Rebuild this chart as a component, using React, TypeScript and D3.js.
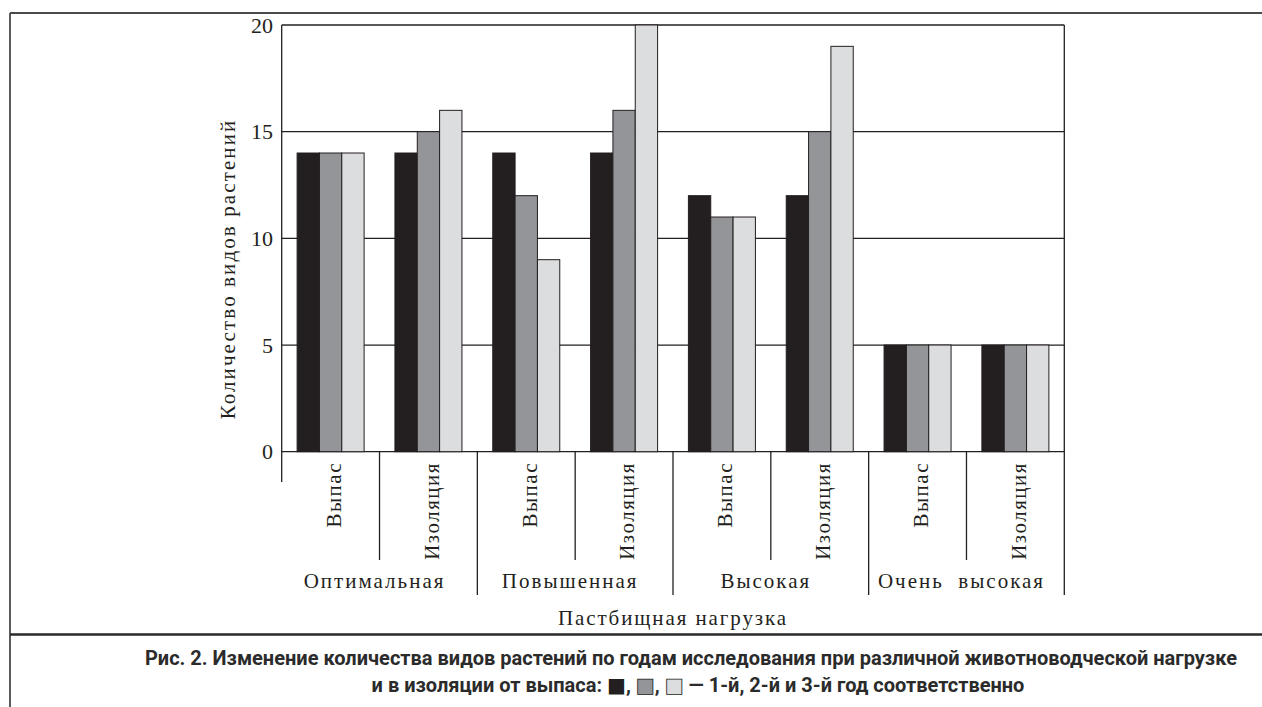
import React from "react";
import * as d3 from "d3";

// pasture load groups and treatments
const groups = ["Оптимальная", "Повышенная", "Высокая", "Очень\u00a0 высокая"];
const treatments = ["Выпас", "Изоляция"];
const years = ["1-й", "2-й", "3-й"];

// number of species per year, in order: group x treatment
const year1 = [14, 14, 14, 14, 12, 12, 5, 5];
const year2 = [14, 15, 12, 16, 11, 15, 5, 5];
const year3 = [14, 16, 9, 20, 11, 19, 5, 5];

const yTicks = [0, 5, 10, 15, 20];

const yTitle = "Количество видов растений";
const xTitle = "Пастбищная нагрузка";
const captionLine1 =
  "Рис. 2. Изменение количества видов растений по годам исследования при различной животноводческой нагрузке";

const colors = ["#231f20", "#939598", "#dcdddf"];
const ink = "#231f20";

const W = 1262;
const H = 707;
const left = 281.7;
const right = 1064.3;
const top = 25;
const bottom = 451.7;

const serif = "'Liberation Serif', 'Times New Roman', serif";
const sans = "Roboto, 'DejaVu Sans', sans-serif";

export default function App() {
  const keys = groups.flatMap((g) => treatments.map((t) => `${g}|${t}`));
  const series = [year1, year2, year3];

  const x = d3.scaleBand<string>().domain(keys).range([left, right]).padding(0);
  const xInner = d3
    .scaleBand<string>()
    .domain(years)
    .range([0, x.bandwidth()])
    .paddingInner(0)
    .paddingOuter(0.69);
  const y = d3.scaleLinear().domain([0, 20]).range([bottom, top]);

  const groupWidth = x.bandwidth() * treatments.length;

  // vertical separators under the axis
  const sepX = keys.map((k) => x(k)!).concat([right]);

  return (
    <svg
      width={W}
      height={H}
      style={{ position: "absolute", left: 0, top: 0, background: "#fff" }}
    >
      {/* outer frame */}
      <line x1={10} y1={13} x2={W} y2={13} stroke="#4a4a4a" strokeWidth={1.8} />
      <line x1={10} y1={13} x2={10} y2={H} stroke="#4a4a4a" strokeWidth={1.8} />
      <line x1={10} y1={634.5} x2={W} y2={634.5} stroke="#2a2a2a" strokeWidth={2.6} />

      {/* grid lines incl. top */}
      {yTicks.slice(1).map((t) => (
        <line key={t} x1={left} x2={right} y1={y(t)} y2={y(t)} stroke={ink} strokeWidth={1.3} />
      ))}
      <line x1={left} x2={right} y1={y(0)} y2={y(0)} stroke={ink} strokeWidth={1.3} />

      {/* bars */}
      {keys.map((k, i) => (
        <g key={k} transform={`translate(${x(k)},0)`}>
          {years.map((yr, j) => (
            <rect
              key={yr}
              x={xInner(yr)}
              y={y(series[j][i])}
              width={xInner.bandwidth()}
              height={y(0) - y(series[j][i])}
              fill={colors[j]}
              stroke={ink}
              strokeWidth={1}
            />
          ))}
        </g>
      ))}

      {/* axes and separators */}
      {sepX.map((sx, i) => {
        let y1 = bottom;
        let y2 = i % 2 === 1 ? 560 : 595;
        if (i === 0) {
          y1 = top;
          y2 = 482;
        }
        if (i === sepX.length - 1) y1 = top;
        return <line key={i} x1={sx} x2={sx} y1={y1} y2={y2} stroke={ink} strokeWidth={1.3} />;
      })}

      {/* y tick labels */}
      {yTicks.map((t) => (
        <text
          key={t}
          x={273}
          y={y(t)}
          dy="0.35em"
          textAnchor="end"
          fontFamily={serif}
          fontSize={22}
          fill={ink}
        >
          {t}
        </text>
      ))}

      {/* y title */}
      <text
        transform={`translate(235,269) rotate(-90)`}
        textAnchor="middle"
        fontFamily={serif}
        fontSize={21}
        letterSpacing={2.1}
        fill={ink}
      >
        {yTitle}
      </text>

      {/* treatment labels */}
      {keys.map((k) => {
        const t = k.split("|")[1];
        const cx = x(k)! + x.bandwidth() / 2 + 3;
        return (
          <text
            key={k}
            transform={`translate(${cx},462) rotate(-90)`}
            textAnchor="end"
            dy="0.35em"
            fontFamily={serif}
            fontSize={21}
            letterSpacing={1.5}
            fill={ink}
          >
            {t}
          </text>
        );
      })}

      {/* group labels */}
      {groups.map((g) => (
        <text
          key={g}
          x={x(`${g}|${treatments[0]}`)! + groupWidth / 2 - 5}
          y={588}
          textAnchor="middle"
          fontFamily={serif}
          fontSize={21}
          letterSpacing={2}
          fill={ink}
        >
          {g}
        </text>
      ))}

      {/* x title */}
      <text
        x={(left + right) / 2}
        y={625}
        textAnchor="middle"
        fontFamily={serif}
        fontSize={21}
        letterSpacing={1.9}
        fill={ink}
      >
        {xTitle}
      </text>

      {/* caption */}
      <text
        x={691}
        y={665}
        textAnchor="middle"
        fontFamily={sans}
        fontWeight={700}
        fontSize={20}
        fill="#2b2b2b"
      >
        {captionLine1}
      </text>
      <text
        x={698}
        y={692}
        textAnchor="middle"
        fontFamily={sans}
        fontWeight={700}
        fontSize={20}
        fill="#2b2b2b"
      >
        <tspan>и в изоляции от выпаса: </tspan>
        <tspan fill={colors[0]} fontFamily="'DejaVu Sans'">■</tspan>
        <tspan>, </tspan>
        <tspan fill={colors[1]} stroke={ink} strokeWidth={0.8} fontFamily="'DejaVu Sans'">■</tspan>
        <tspan>, </tspan>
        <tspan fill={colors[2]} stroke={ink} strokeWidth={0.8} fontFamily="'DejaVu Sans'">■</tspan>
        <tspan> — 1-й, 2-й и 3-й год соответственно</tspan>
      </text>
    </svg>
  );
}
